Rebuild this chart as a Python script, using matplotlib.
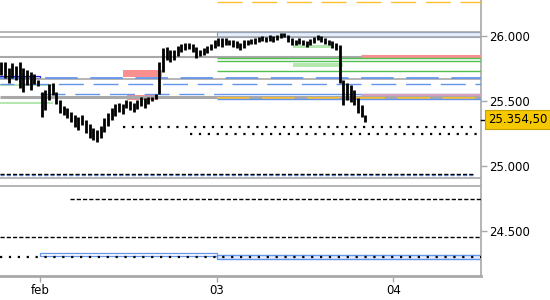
import numpy as np
import matplotlib.pyplot as plt
from matplotlib.patches import Rectangle

plt.rcParams['font.family'] = ['DejaVu Sans']

# barre da 30 minuti, asse x in giorni a partire da "feb"
bar_start = -0.22
highs = [25800, 25800, 25754, 25792, 25769, 25800, 25754, 25738, 25723, 25708,
         25662, 25569, 25585, 25631, 25639, 25569, 25508, 25462, 25446, 25415,
         25392, 25377, 25392, 25354, 25323, 25292, 25277, 25308, 25369, 25408,
         25446, 25477, 25485, 25477, 25508, 25500, 25485, 25508, 25531, 25523,
         25531, 25531, 25554, 25800, 25908, 25915, 25892, 25892, 25923, 25938,
         25946, 25946, 25938, 25915, 25892, 25908, 25923, 25938, 25969, 25985,
         25985, 25985, 25969, 25969, 25962, 25946, 25969, 25969, 25977, 25985,
         25992, 26000, 25992, 26008, 26000, 26008, 26023, 26023, 26008, 25985,
         25969, 25985, 25969, 25962, 25977, 25992, 26008, 26000, 25985, 25969,
         25962, 25946, 25931, 25662, 25639, 25623, 25585, 25523, 25469, 25395]
lows = [25700, 25677, 25639, 25677, 25662, 25600, 25569, 25623, 25585, 25631,
        25615, 25377, 25431, 25508, 25546, 25477, 25408, 25392, 25369, 25338,
        25300, 25277, 25315, 25254, 25215, 25200, 25185, 25215, 25262, 25308,
        25354, 25385, 25415, 25400, 25446, 25431, 25415, 25438, 25462, 25446,
        25477, 25500, 25515, 25554, 25723, 25815, 25800, 25815, 25846, 25877,
        25892, 25900, 25877, 25831, 25846, 25854, 25869, 25892, 25908, 25923,
        25915, 25931, 25931, 25915, 25908, 25892, 25908, 25931, 25938, 25938,
        25954, 25962, 25954, 25962, 25954, 25969, 25985, 25992, 25954, 25931,
        25931, 25938, 25931, 25915, 25931, 25946, 25969, 25954, 25938, 25931,
        25908, 25892, 25639, 25469, 25508, 25492, 25469, 25408, 25377, 25340]
last_price = 25354.5

x_ticks = [0, 1, 2]
x_labels = ['feb', '03', '04']
y_ticks = [24500, 25000, 25500, 26000]

fig = plt.figure(figsize=(5.5, 3.0), dpi=100)
ax = fig.add_axes([0, 0.08, 0.8745, 0.92])
x0, x1 = -0.227, 2.497
ax.set_xlim(x0, x1)
ax.set_ylim(24154, 26277)

blue = '#6495ED'
grey = '#A8A8A8'
orange = '#FFC030'
green = '#50C050'
salmon = '#F89090'
lgreen = '#B4E8B0'

# zone (rettangoli)
ax.add_patch(Rectangle((1, 25995), x1 - 1, 35, facecolor='#E3ECFA', edgecolor=blue, lw=0.8, zorder=1))
ax.add_patch(Rectangle((1.43, 25910), 0.22, 21, facecolor=lgreen, edgecolor='none', zorder=1))
ax.add_patch(Rectangle((1.43, 25762), 0.285, 30, facecolor=lgreen, edgecolor='none', zorder=1))
ax.add_patch(Rectangle((0.47, 25687), 0.22, 51, facecolor=salmon, edgecolor='none', zorder=1))
ax.add_patch(Rectangle((0.49, 25510), 0.18, 36, facecolor=salmon, edgecolor='none', zorder=1))
ax.add_patch(Rectangle((x0, 25677), -x0, 15, facecolor='none', edgecolor='#2424C8', lw=0.9, zorder=2))
ax.add_patch(Rectangle((0, 24308), 1, 21, facecolor='none', edgecolor=blue, lw=0.9, zorder=2))
ax.add_patch(Rectangle((1, 24282), x1 - 1, 33, facecolor='#E3ECFA', edgecolor=blue, lw=1.0, zorder=1))

# linee grigie
for y, w in [(26030, 1.2), (25995, 1.2), (25838, 1.5), (25667, 1.2), (25531, 2.2), (24904, 1.2), (24846, 1.2)]:
    ax.hlines(y, x0, x1, color=grey, lw=w, zorder=2)

# livelli colorati
ax.hlines(26262, 1, x1, color=orange, lw=1.0, linestyle=(0, (18, 7)), zorder=3)
ax.hlines(25850, 1.82, x1, color=salmon, lw=2.2, zorder=3)
for y in [25831, 25808, 25731]:
    ax.hlines(y, 1, x1, color=green, lw=1.0, zorder=3)
ax.hlines(25675, x0, x1, color=blue, lw=1.3, linestyle=(0, (18, 7)), zorder=3)
ax.hlines(25628, x0, x1, color=blue, lw=1.0, linestyle=(8, (18, 7)), zorder=3)
ax.hlines(25552, 0, 1, color=blue, lw=1.0, linestyle=(0, (18, 7)), zorder=3)
ax.hlines(25552, 1, x1, color=blue, lw=1.0, zorder=3)
ax.hlines(25543, 1.82, x1, color='#D8A0C0', lw=1.5, zorder=3)
ax.hlines(25521, 1, x1, color=orange, lw=1.3, linestyle=(0, (18, 7)), zorder=3)
ax.hlines(25515, 1, x1, color=blue, lw=1.0, zorder=3)
ax.hlines(25623, x0, 0.085, color=lgreen, lw=1.5, zorder=2)
ax.hlines(25487, x0, 0.074, color=lgreen, lw=1.5, zorder=2)

# linee nere tratteggiate / punteggiate
ax.hlines(25302, 0.47, 2.48, color='black', lw=1.6, linestyle=(0, (1, 3.0)), zorder=3)
ax.hlines(25249, 0.85, 2.48, color='black', lw=1.6, linestyle=(0, (1, 3.0)), zorder=3)
ax.hlines(24931, x0, 2.46, color=blue, lw=1.0, linestyle=(0, (3, 1.5)), zorder=3)
ax.hlines(24938, x0, 2.46, color='black', lw=1.0, linestyle=(0, (3, 1.5)), zorder=3)
ax.hlines(24746, 0.17, x1, color='black', lw=1.0, linestyle=(0, (3, 1.5)), zorder=3)
ax.hlines(24454, x0, x1, color='black', lw=1.0, linestyle=(0, (3, 1.5)), zorder=3)
ax.hlines(24300, x0, x1, color='black', lw=1.6, linestyle=(0, (1, 3.0)), zorder=3)

# barre di prezzo
t = bar_start + np.arange(len(highs)) / 48
ax.vlines(t, lows, highs, color='black', lw=2.0, zorder=5)

# assi
for s in ['top', 'left']:
    ax.spines[s].set_visible(False)
ax.spines['bottom'].set_color(grey)
ax.spines['bottom'].set_linewidth(2)
ax.spines['right'].set_color(grey)
ax.spines['right'].set_linewidth(1.2)
ax.yaxis.tick_right()
ax.set_yticks(y_ticks)
ax.set_yticklabels([f'{v:,.0f}'.replace(',', '.') for v in y_ticks], fontsize=8.5)
ax.set_xticks(x_ticks)
ax.set_xticklabels(x_labels, fontsize=8.5)
ax.tick_params(axis='both', color=grey, length=4, width=1, pad=2)
ax.set_facecolor('white')

# etichetta prezzo corrente
ax.plot([x1, x1 + 0.035], [last_price, last_price], color='black', lw=1, clip_on=False, zorder=6)
ax.text(x1 + 0.04, last_price, f'{last_price:,.2f}'.replace(',', 'X').replace('.', ',').replace('X', '.'),
        fontsize=8.5, va='center', ha='left', zorder=7,
        bbox=dict(boxstyle='square,pad=0.25', facecolor='#F5C800', edgecolor='#C8A000', lw=0.8))

fig.savefig('out.png', dpi=100)
